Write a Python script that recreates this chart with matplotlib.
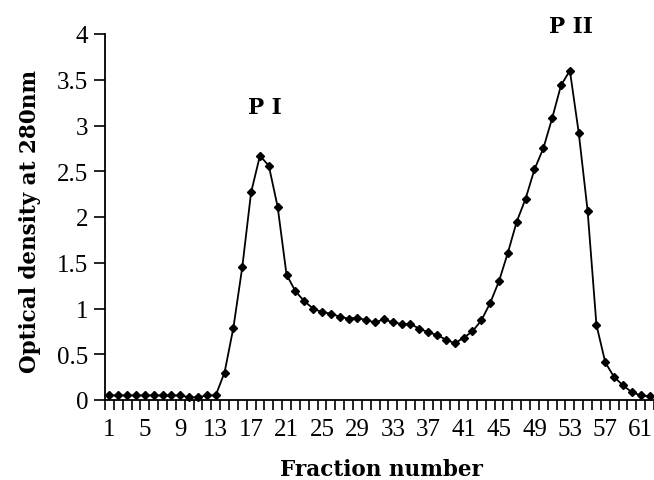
import matplotlib
matplotlib.use("Agg")
import matplotlib.pyplot as plt
import numpy as np

fractions = list(range(1, 63))
optical_density = [
    0.05, 0.05, 0.05, 0.05, 0.05, 0.05, 0.05, 0.05, 0.05, 0.03,
    0.03, 0.05, 0.05, 0.30, 0.79, 1.45, 2.27, 2.67, 2.56, 2.11,
    1.37, 1.19, 1.08, 1.00, 0.96, 0.945, 0.91, 0.89, 0.90, 0.87,
    0.85, 0.88, 0.85, 0.83, 0.83, 0.78, 0.74, 0.71, 0.66, 0.62,
    0.68, 0.75, 0.87, 1.06, 1.30, 1.61, 1.95, 2.20, 2.52, 2.75,
    3.08, 3.44, 3.60, 2.92, 2.07, 0.82, 0.41, 0.25, 0.16, 0.085,
    0.05, 0.04,
]
xtick_labels = list(range(1, 62, 4))
yticks = [0, 0.5, 1, 1.5, 2, 2.5, 3, 3.5, 4]
peak_labels = [("P I", 18.5, 3.2), ("P II", 53.1, 4.09)]

fig = plt.figure(figsize=(6.54, 4.81), dpi=100)
ax = fig.add_axes([105/654, 1 - 401/481, 549/654, 366/481])

ax.plot(fractions, optical_density, color="black", lw=1.3,
        marker="D", markersize=4, markerfacecolor="black",
        markeredgecolor="black", clip_on=False)

ax.set_xlim(0.5, 62.5)
ax.set_ylim(0, 4)

for s in ["top", "right"]:
    ax.spines[s].set_visible(False)
for s in ["left", "bottom"]:
    ax.spines[s].set_linewidth(1.3)

tick_font = dict(family="Liberation Serif", size=18)
ax.set_xticks(xtick_labels)
ax.set_xticklabels([str(v) for v in xtick_labels], fontdict=tick_font)
ax.set_xticks(np.arange(0.5, 63, 1), minor=True)
ax.tick_params(axis="x", which="major", length=0, pad=13)
ax.tick_params(axis="x", which="minor", length=7, width=1.2, direction="out")

ax.set_yticks(yticks)
ax.set_yticklabels([f"{v:g}" for v in yticks], fontdict=tick_font)
ax.tick_params(axis="y", length=8, width=1.2, direction="out", pad=4)

label_font = dict(family="DejaVu Serif", size=15.5, weight="bold")
ax.set_xlabel("Fraction number", fontdict=label_font)
ax.set_ylabel("Optical density at 280nm", fontdict=label_font)
ax.xaxis.label.set_va("center")
ax.yaxis.label.set_va("center")
ax.xaxis.set_label_coords(0.503, (401 - 470) / 366)
ax.yaxis.set_label_coords((30 - 105) / 549, (401 - 222) / 366)

for txt, x, y in peak_labels:
    ax.text(x, y, txt, ha="center", va="center", clip_on=False,
            family="DejaVu Serif", size=15.5, weight="bold")

fig.savefig("out.png", dpi=100, facecolor="white")
